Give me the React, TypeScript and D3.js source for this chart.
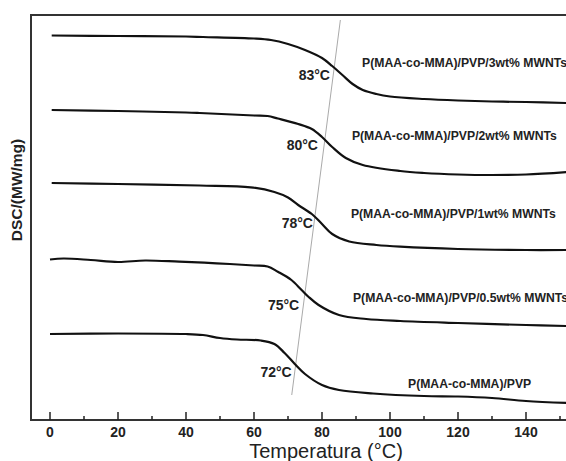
import React, { useEffect, useRef } from 'react'
import * as d3 from 'd3'

// temperature (°C) of each sampled point, per curve
const temps3wt = [0.5, 20, 40, 45, 60, 65, 70, 75, 80, 83, 86, 89, 92, 96, 100, 110, 120, 130, 140, 152]
const dsc3wt = [38.45, 38.4, 38.35, 38.3, 38.15, 38.0, 37.6, 37.0, 36.2, 35.4, 34.5, 33.6, 33.0, 32.6, 32.35, 32.1, 31.95, 31.85, 31.8, 31.7]

const temps2wt = [0.5, 20, 40, 44, 60, 64, 67, 73, 77, 80, 83, 87, 92, 103, 110, 120, 130, 140, 152]
const dsc2wt = [31.0, 30.9, 30.75, 30.7, 30.45, 30.4, 30.15, 29.6, 29.1, 28.3, 27.3, 26.2, 25.5, 24.9, 24.7, 24.55, 24.5, 24.55, 24.8]

const temps1wt = [0.5, 20, 44, 59, 66, 70, 73, 77, 80, 83, 88, 96, 103, 120, 140, 152]
const dsc1wt = [23.7, 23.6, 23.45, 23.27, 22.8, 22.25, 21.5, 20.6, 19.6, 18.6, 17.85, 17.5, 17.33, 17.1, 17.0, 17.0]

const temps05wt = [0, 4, 12, 20, 28, 38, 49, 60, 64, 67, 71, 74, 76, 79, 85, 93, 103, 120, 140, 152]
const dsc05wt = [16.05, 16.15, 16.0, 15.8, 15.95, 15.83, 15.67, 15.45, 15.35, 14.83, 14.0, 13.0, 12.33, 11.5, 10.5, 10.1, 9.9, 9.7, 9.5, 9.4]

const tempsPvp = [0, 20, 40, 45, 50, 55, 62, 66, 69, 72, 75, 80, 85, 95, 110, 120, 130, 140, 152]
const dscPvp = [8.6, 8.65, 8.6, 8.5, 8.2, 8.05, 7.95, 7.6, 6.7, 5.6, 4.6, 3.5, 3.0, 2.65, 2.4, 2.35, 2.2, 1.9, 1.7]

const seriesNames = [
  'P(MAA-co-MMA)/PVP/3wt% MWNTs',
  'P(MAA-co-MMA)/PVP/2wt% MWNTs',
  'P(MAA-co-MMA)/PVP/1wt% MWNTs',
  'P(MAA-co-MMA)/PVP/0.5wt% MWNTs',
  'P(MAA-co-MMA)/PVP'
]
// where each series name sits: [temperature, dsc]
const nameAnchors = [[91.8, 35.75], [88.8, 28.45], [88.5, 20.67], [89.1, 12.23], [105.3, 3.6]]

const tgLabels = ['83°C', '80°C', '78°C', '75°C', '72°C']
// right end of each Tg label: [temperature, dsc]
const tgAnchors = [[82.35, 34.5], [78.8, 27.5], [77.35, 19.7], [73.3, 11.5], [71.1, 4.8]]

// grey line through the Tg points
const tgLine = [[85.4, 40.0], [71.1, 2.5]]

const xTicks = [0, 20, 40, 60, 80, 100, 120, 140]
const xMinorTicks = [10, 30, 50, 70, 90, 110, 130, 150]

const W = 566
const H = 461

function App() {
  const anchor = useRef(null)

  useEffect(() => {
    const svg = d3.select(anchor.current)
    svg.selectAll('*').remove()

    const left = 31
    const top = 15
    const bottom = 420
    const font = 'Liberation Sans, Arial, sans-serif'

    const x = d3.scaleLinear().domain([0, 140]).range([50, 526])
    const y = d3.scaleLinear().domain([0, 40.5]).range([bottom, top])

    const curves = [
      [temps3wt, dsc3wt],
      [temps2wt, dsc2wt],
      [temps1wt, dsc1wt],
      [temps05wt, dsc05wt],
      [tempsPvp, dscPvp]
    ]

    const line = d3
      .line()
      .x(d => x(d[0]))
      .y(d => y(d[1]))
      .curve(d3.curveCatmullRom.alpha(0.5))

    // grey Tg line
    svg
      .append('line')
      .attr('x1', x(tgLine[0][0]))
      .attr('y1', y(tgLine[0][1]))
      .attr('x2', x(tgLine[1][0]))
      .attr('y2', y(tgLine[1][1]))
      .attr('stroke', '#aaa')
      .attr('stroke-width', 1)

    svg
      .append('g')
      .selectAll('path')
      .data(curves)
      .enter()
      .append('path')
      .attr('d', c => line(c[0].map((t, i) => [t, c[1][i]])))
      .attr('fill', 'none')
      .attr('stroke', '#111')
      .attr('stroke-width', 2.2)

    // frame: left, top, bottom
    svg
      .append('path')
      .attr('d', `M${W},${top}H${left}V${bottom}H${W}`)
      .attr('fill', 'none')
      .attr('stroke', '#333')
      .attr('stroke-width', 2)

    const axis = svg.append('g')
    axis
      .selectAll('line.major')
      .data(xTicks)
      .enter()
      .append('line')
      .attr('x1', d => x(d))
      .attr('x2', d => x(d))
      .attr('y1', bottom)
      .attr('y2', bottom - 8)
      .attr('stroke', '#222')
      .attr('stroke-width', 1.5)
    axis
      .selectAll('line.minor')
      .data(xMinorTicks)
      .enter()
      .append('line')
      .attr('x1', d => x(d))
      .attr('x2', d => x(d))
      .attr('y1', bottom)
      .attr('y2', bottom - 4)
      .attr('stroke', '#222')
      .attr('stroke-width', 1.5)
    axis
      .selectAll('text')
      .data(xTicks)
      .enter()
      .append('text')
      .attr('x', d => x(d))
      .attr('y', 437)
      .attr('text-anchor', 'middle')
      .attr('font-family', font)
      .attr('font-weight', 'bold')
      .attr('font-size', 14)
      .attr('fill', '#222')
      .text(d => d)

    svg
      .append('text')
      .attr('x', 326)
      .attr('y', 458)
      .attr('text-anchor', 'middle')
      .attr('font-family', font)
      .attr('font-size', 20)
      .attr('fill', '#222')
      .text('Temperatura (°C)')

    svg
      .append('text')
      .attr('transform', 'translate(22,190) rotate(-90)')
      .attr('text-anchor', 'middle')
      .attr('font-family', font)
      .attr('font-weight', 'bold')
      .attr('font-size', 15.5)
      .attr('fill', '#222')
      .text('DSC/(MW/mg)')

    svg
      .append('g')
      .selectAll('text')
      .data(seriesNames)
      .enter()
      .append('text')
      .attr('x', (d, i) => x(nameAnchors[i][0]))
      .attr('y', (d, i) => y(nameAnchors[i][1]))
      .attr('dy', '0.35em')
      .attr('font-family', font)
      .attr('font-weight', 'bold')
      .attr('font-size', 12.2)
      .attr('fill', '#222')
      .text(d => d)

    svg
      .append('g')
      .selectAll('text')
      .data(tgLabels)
      .enter()
      .append('text')
      .attr('x', (d, i) => x(tgAnchors[i][0]))
      .attr('y', (d, i) => y(tgAnchors[i][1]))
      .attr('dy', '0.35em')
      .attr('text-anchor', 'end')
      .attr('font-family', font)
      .attr('font-weight', 'bold')
      .attr('font-size', 14)
      .attr('fill', '#222')
      .text(d => d)
  }, [])

  return (
    <svg
      ref={anchor}
      width={W}
      height={H}
      style={{ position: 'absolute', left: 0, top: 0, background: '#fff' }}
    />
  )
}

export default App
